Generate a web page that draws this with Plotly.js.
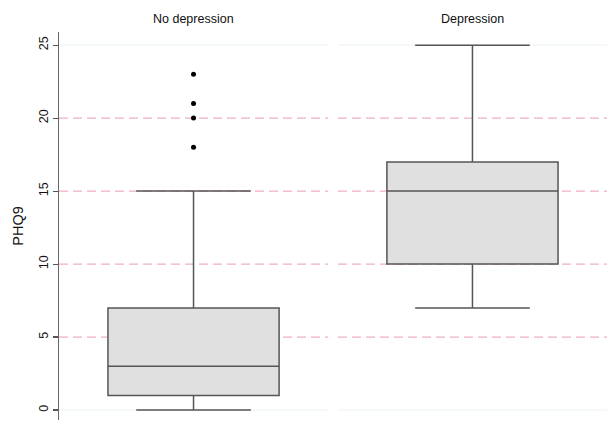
<!DOCTYPE html>
<html>
<head>
<meta charset="utf-8">
<script src="https://cdn.plot.ly/plotly-3.0.1.min.js"></script>
<style>html,body{margin:0;padding:0;background:#fff;}#chart{width:609px;height:421px;}</style>
</head>
<body>
<div id="chart"></div>
<script>
// Data
const groups = ["No depression", "Depression"];
const lowerWhisker = [0, 7];
const q1Values = [1, 10];
const medians = [3, 15];
const q3Values = [7, 17];
const upperWhisker = [15, 25];
const outliersNoDep = [18, 20, 21, 23];
const outliersDep = [];
const refLines = [5, 10, 15, 20];
const edgeLines = [0, 25];
const yTicks = [0, 5, 10, 15, 20, 25];

const xAxes = ["x", "x2"];
const outliers = [outliersNoDep, outliersDep];

const traces = [];
groups.forEach((g, i) => {
  traces.push({
    type: "box",
    xaxis: xAxes[i], yaxis: "y",
    x: [0],
    q1: [q1Values[i]], median: [medians[i]], q3: [q3Values[i]],
    lowerfence: [lowerWhisker[i]], upperfence: [upperWhisker[i]],
    width: 0.636,
    whiskerwidth: 0.67,
    fillcolor: "#e0e0e0",
    line: {color: "#555555", width: 1.5},
    boxpoints: false,
    hoverinfo: "skip",
    showlegend: false
  });
  if (outliers[i].length) {
    traces.push({
      type: "scatter", mode: "markers",
      xaxis: xAxes[i], yaxis: "y",
      x: outliers[i].map(() => 0), y: outliers[i],
      marker: {color: "#000", size: 5},
      showlegend: false, hoverinfo: "skip"
    });
  }
});

const shapes = [];
xAxes.forEach(xa => {
  edgeLines.forEach(v => {
    shapes.push({
      type: "line", layer: "below",
      xref: xa + " domain", yref: "y",
      x0: 0, x1: 1, y0: v, y1: v,
      line: {color: "#eaf2f4", width: 1}
    });
  });
  refLines.forEach(v => {
    shapes.push({
      type: "line", layer: "below",
      xref: xa + " domain", yref: "y",
      x0: 0, x1: 1, y0: v, y1: v,
      line: {color: "#ea9bb4", width: 1, dash: "9px,5px"}
    });
  });
});

const annotations = groups.map((g, i) => ({
  text: g, showarrow: false,
  xref: xAxes[i] + " domain", yref: "paper",
  x: 0.5, y: 1, yanchor: "bottom", yshift: 4,
  font: {family: "Liberation Sans, Arial, sans-serif", size: 12.5, color: "#111"}
}));

const baseX = {
  range: [-0.5, 0.5], showticklabels: false, ticks: "",
  showgrid: false, zeroline: false, showline: false, fixedrange: true
};

const layout = {
  width: 609, height: 421,
  margin: {l: 59, r: 2, t: 32, b: 1},
  paper_bgcolor: "#fff", plot_bgcolor: "#fff",
  font: {family: "Liberation Sans, Arial, sans-serif", color: "#111"},
  xaxis: Object.assign({domain: [0, 0.491]}, baseX),
  xaxis2: Object.assign({domain: [0.509, 1], anchor: "y"}, baseX),
  yaxis: {
    range: [-0.68, 25.9],
    tickvals: yTicks, ticktext: yTicks.map(String),
    tickangle: -90, ticks: "outside", ticklen: 5, tickcolor: "#555", tickwidth: 1.2,
    tickfont: {size: 12.5, color: "#111"},
    showline: true, linecolor: "#666", linewidth: 1.5,
    showgrid: false,
    zeroline: false,
    title: {text: "PHQ9", font: {size: 14.5, color: "#111"}, standoff: 9}
  },
  shapes: shapes,
  annotations: annotations
};

Plotly.newPlot("chart", traces, layout, {displayModeBar: false, staticPlot: true});
</script>
</body>
</html>
